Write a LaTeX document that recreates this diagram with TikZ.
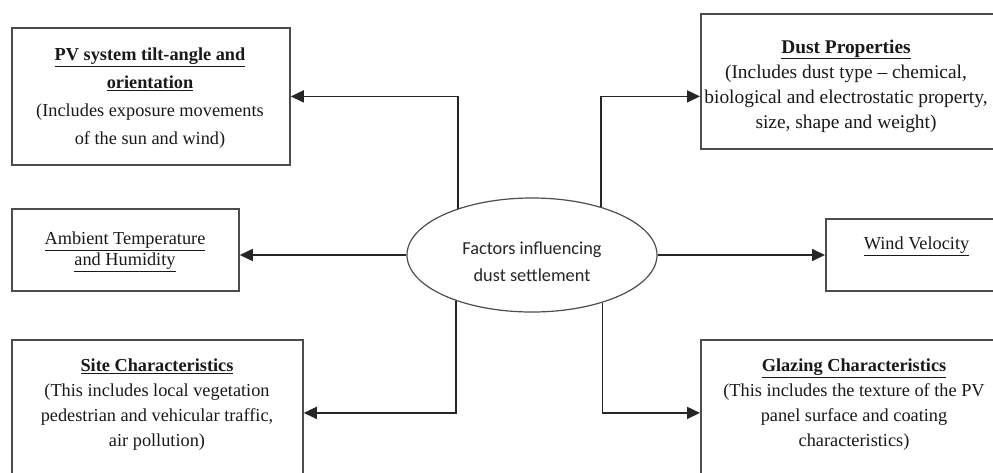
\documentclass[tikz,border=0pt]{standalone}
\usepackage{fontspec}
\setmainfont{Liberation Serif}
\newfontfamily\calib{Carlito}
\usetikzlibrary{arrows.meta,shapes.geometric}
\begin{document}
\begin{tikzpicture}[x=1pt,y=-1pt,
  boxstyle/.style={draw=black!70, line width=1.8pt, rectangle, inner sep=0pt, anchor=north west},
  txt/.style={align=center, inner sep=0pt, text=black!90, font=\fontsize{18.3}{25}\selectfont},
  conn/.style={draw=black!85, line width=1.7pt, -{Triangle[length=13pt,width=12pt]}},
]
\useasboundingbox (0,0) rectangle (993,472);
\clip (0,0) rectangle (993,472);
\fill[white] (0,0) rectangle (993,472);
% boxes
\node[boxstyle, minimum width=278pt, minimum height=137pt] (b1) at (11,27) {};
\node[boxstyle, minimum width=320pt, minimum height=135pt] (b2) at (700,13) {};
\node[boxstyle, minimum width=227pt, minimum height=82pt] (b3) at (11,208) {};
\node[boxstyle, minimum width=200pt, minimum height=72pt] (b4) at (825,218) {};
\node[boxstyle, minimum width=291pt, minimum height=146pt] (b5) at (11,339) {};
\node[boxstyle, minimum width=320pt, minimum height=146pt] (b6) at (700,339) {};
% ellipse
\node[draw=black!70, line width=1.2pt, ellipse, minimum width=250pt, minimum height=114pt, inner sep=0pt] (e) at (532,255) {};
\node[align=center, inner sep=0pt, text=black!85, font=\calib\fontsize{18.3}{27}\selectfont] (te) at (532,261.5) {Factors influencing\\dust settlement};
% texts
\node[txt, font=\fontsize{18.3}{28}\selectfont] (t1) at (150,98) {\underline{\textbf{PV system tilt-angle and}}\\\underline{\textbf{orientation}}\\(Includes exposure movements\\of the sun and wind)};
\node[txt, font=\fontsize{19.4}{25}\selectfont] (t2) at (846,86) {\underline{\textbf{Dust Properties}}\\(Includes dust type -- chemical,\\biological and electrostatic property,\\size, shape and weight)};
\node[txt, font=\fontsize{18.3}{21}\selectfont] (t3) at (125,252) {\underline{Ambient Temperature}\\\underline{and Humidity}};
\node[txt] (t4) at (916.5,246) {\underline{Wind Velocity}};
\node[txt] (t5) at (157,405) {\underline{\textbf{Site Characteristics}}\\(This includes local vegetation\\pedestrian and vehicular traffic,\\air pollution)};
\node[txt] (t6) at (854,405) {\underline{\textbf{Glazing Characteristics}}\\(This includes the texture of the PV\\panel surface and coating\\characteristics)};
% connectors
\draw[conn] (e.148.7) |- (b1.east);
\draw[conn] (e.35.7) |- (b2.west |- b1.east);
\draw[conn] (e.west) -- (e.west -| b3.east);
\draw[conn] (e.east) -- (e.east -| b4.west);
\draw[conn] (e.-149.7) |- (b5.east);
\draw[conn] (e.-34.5) |- (b6.west);
\end{tikzpicture}
\end{document}
